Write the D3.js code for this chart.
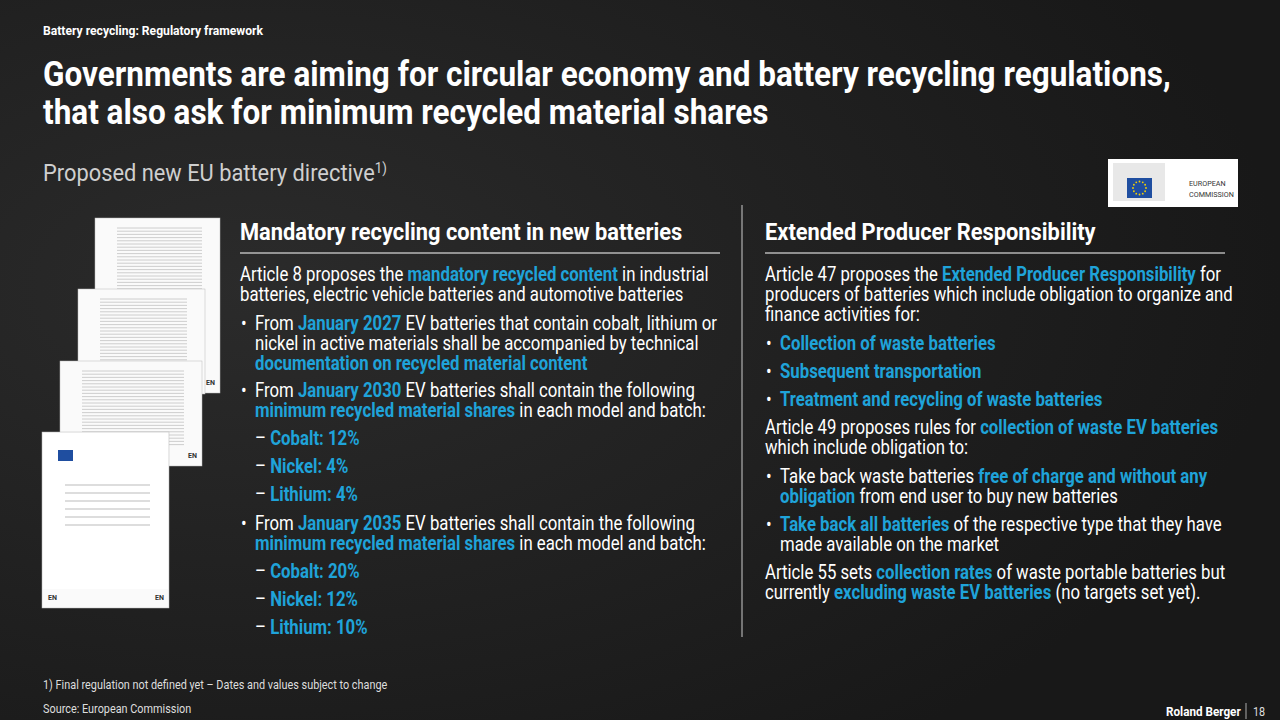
<!DOCTYPE html>
<html><head><meta charset="utf-8">
<script src="https://cdn.jsdelivr.net/npm/d3@7"></script>
<style>body{margin:0;background:#1c1c1c;overflow:hidden}</style>
</head><body><div id="slide"></div>
<script>
const W = 1280, H = 720;
const BLUE = "#1fa3d9";

// data
const shares2030 = [["Cobalt", 12], ["Nickel", 4], ["Lithium", 4]];
const shares2035 = [["Cobalt", 20], ["Nickel", 12], ["Lithium", 10]];
const eprItems = ["Collection of waste batteries", "Subsequent transportation", "Treatment and recycling of waste batteries"];
const docs = [
  { x: 95, y: 218, w: 125, h: 175 },
  { x: 78, y: 289, w: 127, h: 105 },
  { x: 60, y: 361, w: 142, h: 105 },
  { x: 42, y: 432, w: 127, h: 176 }
];

const svg = d3.select("#slide").append("svg").attr("width", W).attr("height", H);

// background
const grad = svg.append("defs").append("radialGradient").attr("id", "bg").attr("cx", "20%").attr("cy", "40%").attr("r", "80%");
grad.append("stop").attr("offset", "0%").attr("stop-color", "#2b2b2b");
grad.append("stop").attr("offset", "100%").attr("stop-color", "#181818");
svg.append("rect").attr("width", W).attr("height", H).attr("fill", "url(#bg)");

// condensed text helper: segments = [[text, bold?, blue?], ...]
function line(x, y, segs, size, sx = 0.86, fill = "#fff") {
  const g = svg.append("g").attr("transform", `translate(${x},${y}) scale(${sx},1)`);
  const t = g.append("text").attr("font-family", "Roboto, sans-serif").attr("font-size", size).attr("fill", fill);
  t.selectAll("tspan").data(segs).join("tspan")
    .text(d => d[0])
    .attr("font-weight", d => d[1] ? 700 : 400)
    .attr("fill", d => d[2] ? BLUE : null);
  return t;
}

// header
line(43, 35, [["Battery recycling: Regulatory framework", 1]], 13.5, 0.9);
line(43, 86, [["Governments are aiming for circular economy and battery recycling regulations,", 1]], 35, 0.9);
line(43, 124, [["that also ask for minimum recycled material shares", 1]], 35, 0.9);
const sub = line(43, 181, [["Proposed new EU battery directive"]], 23, 0.95, "#cfcfcf");
sub.append("tspan").text("1)").attr("font-size", 14).attr("dy", -8);

// EU logo
svg.append("rect").attr("x", 1108).attr("y", 159).attr("width", 130).attr("height", 48).attr("fill", "#fff");
svg.append("rect").attr("x", 1113).attr("y", 163).attr("width", 52).attr("height", 38).attr("fill", "#e8e8e8");
svg.append("rect").attr("x", 1127).attr("y", 178).attr("width", 25).attr("height", 20).attr("fill", "#1f4ea0");
const star = d3.range(12).map(i => [1139.5 + 6.5 * Math.cos(i * Math.PI / 6), 188 + 6.5 * Math.sin(i * Math.PI / 6)]);
svg.selectAll(".st").data(star).join("circle").attr("cx", d => d[0]).attr("cy", d => d[1]).attr("r", 0.9).attr("fill", "#f5d200");
line(1189, 186, [["EUROPEAN"]], 8, 0.9, "#333");
line(1189, 197, [["COMMISSION"]], 8, 0.9, "#333");

// documents
docs.forEach(d => {
  const g = svg.append("g");
  g.append("rect").attr("x", d.x).attr("y", d.y).attr("width", d.w).attr("height", d.h)
    .attr("fill", "#fafafa").attr("stroke", "#bbb").attr("stroke-width", 0.5);
  const rows = d3.range(d.y + 10, d.y + d.h - 20, 3.2);
  g.selectAll("line").data(rows).join("line")
    .attr("x1", d.x + 22).attr("x2", d.x + d.w - 18).attr("y1", r => r).attr("y2", r => r)
    .attr("stroke", "#c8c8c8").attr("stroke-width", 0.9);
  g.append("text").attr("x", d.x + d.w - 14).attr("y", d.y + d.h - 8).attr("font-size", 7)
    .attr("font-weight", 700).attr("font-family", "Roboto").attr("fill", "#333").text("EN");
});
const last = docs[docs.length - 1];
svg.append("rect").attr("x", last.x + 1).attr("y", last.y + 1).attr("width", last.w - 2).attr("height", last.h - 20).attr("fill", "#fff");
svg.append("rect").attr("x", 58).attr("y", 450).attr("width", 15).attr("height", 11).attr("fill", "#1f4ea0");
svg.selectAll(".dl").data(d3.range(485, 530, 8)).join("line").attr("x1", 65).attr("x2", 150)
  .attr("y1", d => d).attr("y2", d => d).attr("stroke", "#bbb");
svg.append("text").attr("x", 48).attr("y", 600).attr("font-size", 7)
  .attr("font-weight", 700).attr("font-family", "Roboto").attr("fill", "#333").text("EN");

// column headers
line(240, 240, [["Mandatory recycling content in new batteries", 1]], 24, 0.91);
line(765, 240, [["Extended Producer Responsibility", 1]], 24, 0.91);
svg.append("line").attr("x1", 240).attr("x2", 720).attr("y1", 253).attr("y2", 253).attr("stroke", "#fff");
svg.append("line").attr("x1", 765).attr("x2", 1225).attr("y1", 253).attr("y2", 253).attr("stroke", "#fff");
svg.append("line").attr("x1", 742).attr("x2", 742).attr("y1", 205).attr("y2", 637).attr("stroke", "#ccc");

const FS = 19.5;
const bullet = (x, y) => line(x, y, [["•"]], FS);

// left column
line(240, 281, [["Article 8 proposes the "], ["mandatory recycled content", 1, 1], [" in industrial"]], FS);
line(240, 301, [["batteries, electric vehicle batteries and automotive batteries"]], FS);
bullet(241, 330);
line(255, 330, [["From "], ["January 2027", 1, 1], [" EV batteries that contain cobalt, lithium or"]], FS);
line(255, 350, [["nickel in active materials shall be accompanied by technical"]], FS);
line(255, 370, [["documentation on recycled material content", 1, 1]], FS);

function sharesBlock(y0, year, shares) {
  bullet(241, y0);
  line(255, y0, [["From "], [`January ${year}`, 1, 1], [" EV batteries shall contain the following"]], FS);
  line(255, y0 + 20, [["minimum recycled material shares", 1, 1], [" in each model and batch:"]], FS);
  shares.forEach((s, i) => line(255, y0 + 48 + i * 28, [["– "], [`${s[0]}: ${s[1]}%`, 1, 1]], FS));
}
sharesBlock(397, 2030, shares2030);
sharesBlock(530, 2035, shares2035);

// right column
line(765, 281, [["Article 47 proposes the "], ["Extended Producer Responsibility", 1, 1], [" for"]], FS);
line(765, 301, [["producers of batteries which include obligation to organize and"]], FS);
line(765, 321, [["finance activities for:"]], FS);
eprItems.forEach((t, i) => { bullet(766, 350 + i * 28); line(780, 350 + i * 28, [[t, 1, 1]], FS); });
line(765, 434, [["Article 49 proposes rules for "], ["collection of waste EV batteries", 1, 1]], FS);
line(765, 454, [["which include obligation to:"]], FS);
bullet(766, 483);
line(780, 483, [["Take back waste batteries "], ["free of charge and without any", 1, 1]], FS);
line(780, 503, [["obligation", 1, 1], [" from end user to buy new batteries"]], FS);
bullet(766, 531);
line(780, 531, [["Take back all batteries", 1, 1], [" of the respective type that they have"]], FS);
line(780, 551, [["made available on the market"]], FS);
line(765, 579, [["Article 55 sets "], ["collection rates", 1, 1], [" of waste portable batteries but"]], FS);
line(765, 599, [["currently "], ["excluding waste EV batteries", 1, 1], [" (no targets set yet)."]], FS);

// footer
line(43, 689, [["1) Final regulation not defined yet – Dates and values subject to change"]], 12.5, 0.87, "#ddd");
line(43, 713, [["Source: European Commission"]], 12.5, 0.87, "#ddd");
line(1166, 716, [["Roland Berger", 1]], 13, 0.9);
svg.append("line").attr("x1", 1246).attr("x2", 1246).attr("y1", 703).attr("y2", 719).attr("stroke", "#aaa");
line(1253, 716, [["18"]], 12, 0.9, "#ddd");
</script></body></html>
